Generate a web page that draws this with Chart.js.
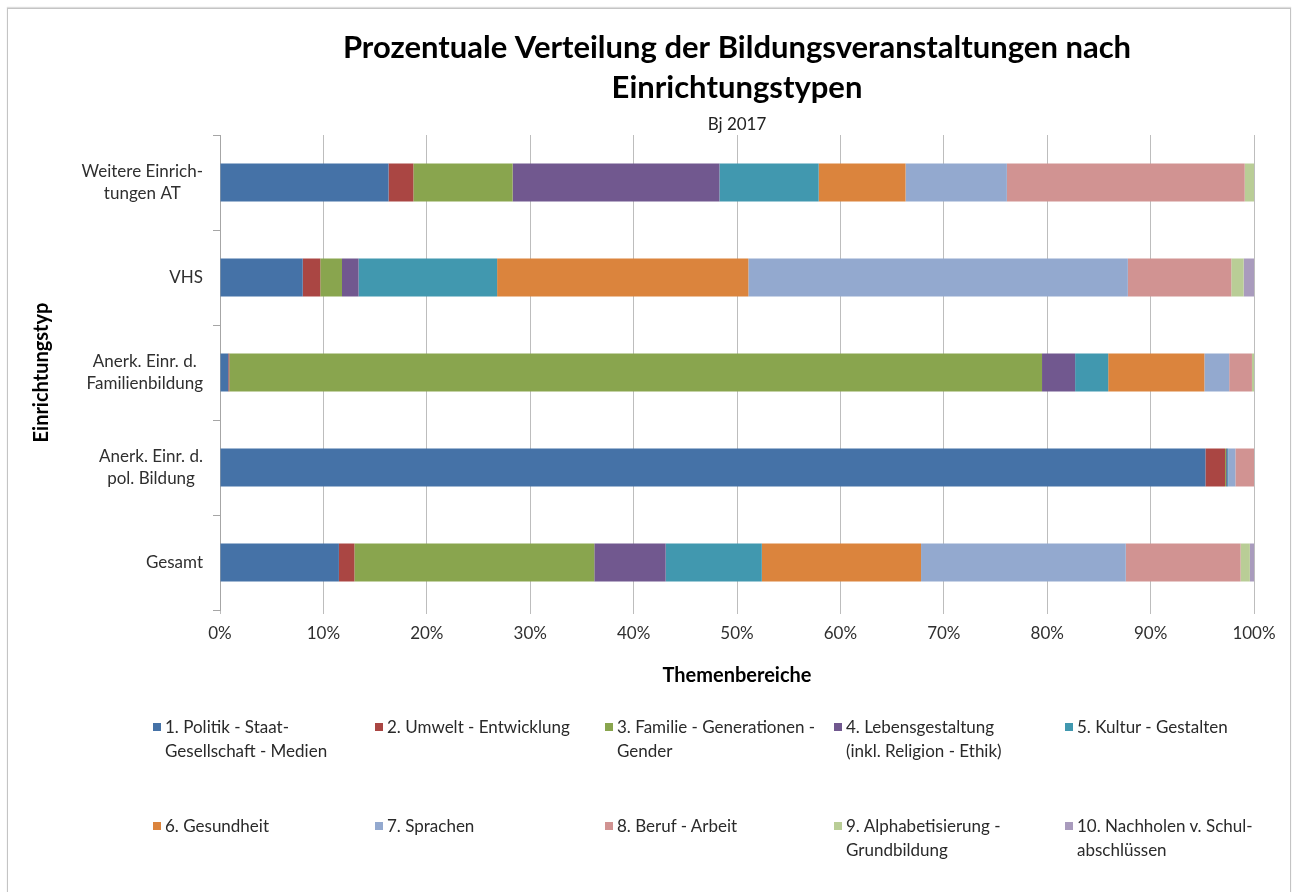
<!DOCTYPE html>
<html>
<head>
<meta charset="utf-8">
<script src="https://cdn.jsdelivr.net/npm/chart.js@4"></script>
<style>
  html, body { margin:0; padding:0; background:#fff; }
  #wrap { position:relative; width:1298px; height:892px; overflow:hidden; }
  #frame { position:absolute; left:7px; top:8px; width:1282px; height:900px; border:1px solid #c4c4c4; box-shadow:0 -1px 1px #ddd; }
  canvas { position:absolute; left:0; top:0; }
  .lg { position:absolute; font-family:Lato, sans-serif; font-size:17px; line-height:24px; color:#2a2a2a; white-space:nowrap; }
  .lg i { position:absolute; left:-12px; top:8px; width:8px; height:8px; }
</style>
</head>
<body>
<div id="wrap">
  <div id="frame"></div>
  <canvas id="c" width="1298" height="892"></canvas>
  <div id="legend"></div>
</div>
<script>
const categories = [['Weitere Einrich-','tungen AT'], 'VHS', ['Anerk. Einr. d.','Familienbildung'], ['Anerk. Einr. d.','pol. Bildung'], 'Gesamt'];
const seriesNames = [
  ['1. Politik - Staat-','Gesellschaft - Medien'],
  ['2. Umwelt - Entwicklung'],
  ['3. Familie - Generationen -','Gender'],
  ['4. Lebensgestaltung','(inkl. Religion - Ethik)'],
  ['5. Kultur - Gestalten'],
  ['6. Gesundheit'],
  ['7. Sprachen'],
  ['8. Beruf - Arbeit'],
  ['9. Alphabetisierung -','Grundbildung'],
  ['10. Nachholen v. Schul-','abschlüssen']
];
const politik     = [16.3,  8.0,  0.8, 95.3, 11.5];
const umwelt      = [ 2.4,  1.7,  0.1,  1.9,  1.5];
const familie     = [ 9.6,  2.1, 78.6,  0.1, 23.2];
const lebens      = [20.0,  1.6,  3.2,  0.1,  6.9];
const kultur      = [ 9.6, 13.4,  3.2,  0.1,  9.3];
const gesundheit  = [ 8.4, 24.3,  9.3,  0.0, 15.4];
const sprachen    = [ 9.8, 36.7,  2.4,  0.7, 19.8];
const beruf       = [23.0, 10.0,  2.2,  1.8, 11.1];
const alpha       = [ 0.9,  1.2,  0.2,  0.0,  0.9];
const nachholen   = [ 0.0,  1.0,  0.0,  0.0,  0.4];
const seriesValues = [politik, umwelt, familie, lebens, kultur, gesundheit, sprachen, beruf, alpha, nachholen];
const colors = ['#4572A7','#AA4643','#89A54E','#71588F','#4198AF','#DB843D','#93A9CF','#D19392','#B9CD96','#A99BBD'];
const xTicks = [0,10,20,30,40,50,60,70,80,90,100];

const datasets = seriesValues.map((vals, i) => ({
  label: seriesNames[i].join(' '),
  data: vals,
  backgroundColor: colors[i],
  borderWidth: 0,
  barPercentage: 0.4,
  categoryPercentage: 1.0
}));

const yLabelPlugin = {
  id: 'yLabels',
  afterDraw(chart) {
    const sc = chart.scales.y, ctx = chart.ctx;
    ctx.save();
    ctx.font = '17px Lato';
    ctx.fillStyle = '#2f2f2f';
    ctx.textAlign = 'center';
    ctx.textBaseline = 'middle';
    categories.forEach((lab, i) => {
      const lines = Array.isArray(lab) ? lab : [lab];
      const w = Math.max(...lines.map(l => ctx.measureText(l).width));
      const cx = sc.right - 17 - w / 2;
      const y0 = sc.getPixelForTick(i) - (lines.length - 1) * 22 / 2;
      lines.forEach((l, j) => ctx.fillText(l, cx, y0 + j * 22));
    });
    ctx.restore();
  }
};

new Chart(document.getElementById('c'), {
  type: 'bar',
  data: { labels: categories, datasets },
  plugins: [yLabelPlugin],
  options: {
    indexAxis: 'y',
    responsive: false,
    animation: false,
    layout: { padding: { left: 0, right: 44, top: 0, bottom: 182 } },
    plugins: {
      legend: { display: false },
      tooltip: { enabled: false },
      title: {
        display: true, fullSize: false,
        text: ['Prozentuale Verteilung der Bildungsveranstaltungen nach', 'Einrichtungstypen'],
        font: { family: 'Lato', size: 31, weight: 'bold', lineHeight: 40/31 },
        color: '#000',
        padding: { top: 28, bottom: 6 }
      },
      subtitle: {
        display: true, fullSize: false,
        text: 'Bj 2017',
        font: { family: 'Lato', size: 17, lineHeight: 1.2 },
        color: '#222',
        padding: { top: 0, bottom: 0.6 }
      }
    },
    scales: {
      x: {
        stacked: true, min: 0, max: 100,
        afterBuildTicks: s => { s.ticks = xTicks.map(v => ({ value: v })); },
        afterFit: s => { s.height = 100; },
        ticks: { callback: v => v + '%', font: { family: 'Lato', size: 17 }, color: '#2f2f2f', padding: 9, maxRotation: 0 },
        grid: { color: '#bdbdbd', lineWidth: 1, tickLength: 4 },
        border: { display: false },
        title: { display: true, text: 'Themenbereiche', font: { family: 'Lato', size: 20, weight: 'bold' }, color: '#000', padding: { top: 0, bottom: 22 } }
      },
      y: {
        stacked: true,
        afterFit: s => { s.width = 220; },
        ticks: { display: false },
        grid: { display: true, drawOnChartArea: false, offset: true, tickLength: 7, color: '#a6a6a6' },
        border: { display: true, color: '#a6a6a6' },
        title: { display: true, text: 'Einrichtungstyp', font: { family: 'Lato', size: 20, weight: 'bold' }, color: '#000', padding: { top: 30, bottom: 0 } }
      }
    }
  }
});

// HTML legend
const legendCols = [165, 387, 617, 846, 1077];
const legendRows = [715, 814];
const lg = document.getElementById('legend');
seriesNames.forEach((lines, i) => {
  const d = document.createElement('div');
  d.className = 'lg';
  d.style.left = legendCols[i % 5] + 'px';
  d.style.top = legendRows[Math.floor(i / 5)] + 'px';
  const sw = document.createElement('i');
  sw.style.background = colors[i];
  d.appendChild(sw);
  lines.forEach((t, j) => {
    if (j) d.appendChild(document.createElement('br'));
    d.appendChild(document.createTextNode(t));
  });
  lg.appendChild(d);
});
</script>
</body>
</html>
